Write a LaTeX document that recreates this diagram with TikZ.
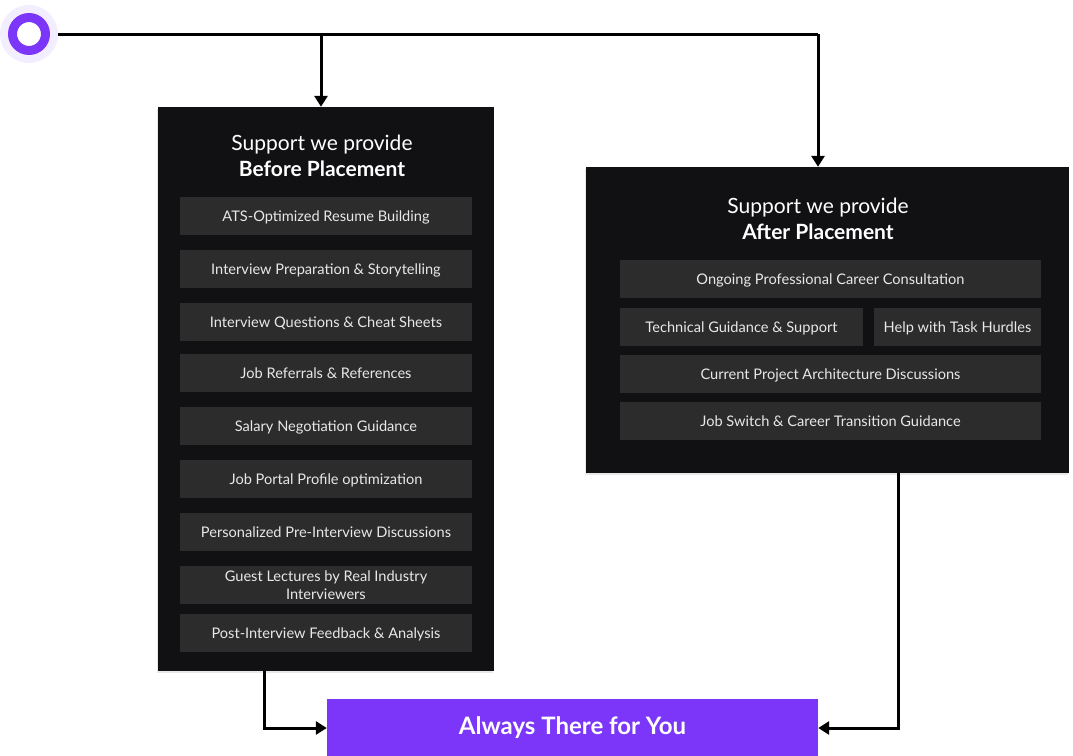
\documentclass[tikz,border=0pt]{standalone}
\usepackage{fontspec}
\setmainfont{Lato}
\usetikzlibrary{arrows.meta,shadows}
\definecolor{panel}{HTML}{111114}
\definecolor{itembg}{HTML}{2C2C2D}
\definecolor{itemtx}{HTML}{E8E8E8}
\definecolor{purp}{HTML}{7B36FA}
\definecolor{halo}{HTML}{F3EEFF}
\tikzset{
  panelbox/.style={draw=none, fill=panel, inner sep=0pt, anchor=center,
    drop shadow={opacity=0.18, shadow xshift=-1pt, shadow yshift=-2pt}},
  itembox/.style={fill=itembg, inner sep=0pt, text=itemtx, align=center,
    font=\fontsize{14.6}{18}\selectfont, minimum height=38pt,
    text height=12.5pt, text depth=1pt},
  titletx/.style={text=white, align=center, font=\fontsize{21}{25.5}\selectfont},
  arr/.style={line width=3pt, -{Triangle[width=13pt,length=11pt]}},
  plain/.style={line width=3pt},
}
\begin{document}
\begin{tikzpicture}[x=1pt,y=-1pt]
\useasboundingbox (0,0) rectangle (1073,755);
% start marker
\fill[halo] (29,34) circle (29);
\node[circle, draw=purp, line width=9pt, minimum size=33pt, inner sep=0pt, fill=white] (start) at (29,34) {};
\coordinate (se) at (58,34);
% panels
\node[panelbox, minimum width=336pt, minimum height=564pt] (before) at (326,389) {};
\node[panelbox, minimum width=483pt, minimum height=306pt] (after) at (827.5,320) {};
\node[fill=purp, inner sep=0pt, minimum width=491pt, minimum height=58pt, text=white,
  font=\fontsize{24}{28}\selectfont\bfseries] (final) at (572.5,728) {Always There for You};
% titles
\node[titletx] (bt) at (322,156) {Support we provide\\\textbf{Before Placement}};
\node[titletx] (at) at (818,219) {Support we provide\\\textbf{After Placement}};
% before items
\foreach \n/\y/\t in {b1/216/{ATS-Optimized Resume Building},
  b2/269/{Interview Preparation \& Storytelling},
  b3/322/{Interview Questions \& Cheat Sheets},
  b4/373/{Job Referrals \& References},
  b5/426/{Salary Negotiation Guidance},
  b6/479/{Job Portal Profile optimization},
  b7/532/{Personalized Pre-Interview Discussions},
  b9/633/{Post-Interview Feedback \& Analysis}}
  \node[itembox, minimum width=292pt] (\n) at (326,\y) {\t};
\node[itembox, minimum width=292pt, text height=, text depth=] (b8) at (326,585) {Guest Lectures by Real Industry\\Interviewers};
% after items
\node[itembox, minimum width=421pt] (a1) at (830.5,279) {Ongoing Professional Career Consultation};
\node[itembox, minimum width=243pt] (a2) at (741.5,327) {Technical Guidance \& Support};
\node[itembox, minimum width=167pt] (a3) at (957.5,327) {Help with Task Hurdles};
\node[itembox, minimum width=421pt] (a4) at (830.5,374) {Current Project Architecture Discussions};
\node[itembox, minimum width=421pt] (a5) at (830.5,421) {Job Switch \& Career Transition Guidance};
% connectors
\coordinate (j1) at (321,34);
\coordinate (j2) at (818,34);
\draw[plain] (se) -- (j2);
\draw[arr] (j1) -- (j1 |- before.north);
\draw[arr] (j2) -- (j2 |- after.north);
\coordinate (o1) at (264,671);
\coordinate (o2) at (898,473);
\draw[arr] (o1) |- (final.west);
\draw[arr] (o2) |- (final.east);
\end{tikzpicture}
\end{document}
